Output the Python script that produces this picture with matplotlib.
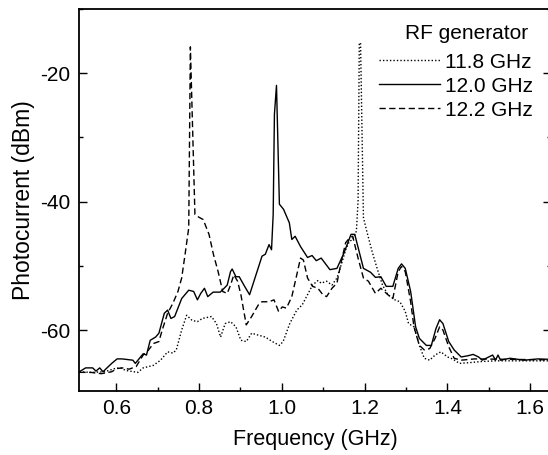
import matplotlib
matplotlib.use('Agg')
import matplotlib.pyplot as plt
from matplotlib.ticker import MultipleLocator

plt.rcParams['font.family'] = ['Liberation Sans', 'DejaVu Sans']

# 11.8 GHz (dotted)
freq_118 = [0.511, 0.538, 0.572, 0.597, 0.61, 0.623, 0.652, 0.665, 0.69, 0.707,
            0.724, 0.737, 0.745, 0.758, 0.770, 0.783, 0.796, 0.808, 0.83, 0.842,
            0.852, 0.863, 0.876, 0.889, 0.901, 0.914, 0.927, 0.943, 0.960, 0.977,
            0.994, 1.003, 1.019, 1.036, 1.049, 1.062, 1.074, 1.087, 1.095, 1.108,
            1.121, 1.133, 1.146, 1.154, 1.163, 1.171, 1.18, 1.184, 1.187, 1.190,
            1.197, 1.205, 1.218, 1.23, 1.243, 1.256, 1.273, 1.285, 1.298, 1.306,
            1.319, 1.332, 1.344, 1.357, 1.37, 1.384, 1.4, 1.412, 1.429, 1.45,
            1.484, 1.517, 1.6, 1.7]
pc_118 = [-66.5, -66.6, -66.5, -66.0, -65.9, -66.3, -66.6, -65.9, -65.5, -64.7,
          -63.4, -63.6, -63.1, -60.0, -57.7, -58.5, -58.7, -58.2, -57.9, -59.0,
          -61.1, -59.0, -58.7, -59.5, -61.6, -61.8, -60.5, -60.8, -61.1, -61.8,
          -62.4, -61.8, -59.0, -56.9, -56.1, -54.5, -53.0, -52.3, -52.7, -52.4,
          -53.0, -51.9, -49.3, -47.5, -46.2, -45.9, -44.6, -39.9, -15.3, -15.3,
          -42.5, -44.6, -47.8, -50.4, -53.0, -54.5, -55.3, -55.6, -57.1, -59.0,
          -59.5, -62.4, -64.4, -64.7, -63.9, -63.4, -64.2, -64.5, -65.2, -65.1,
          -64.9, -64.8, -64.8, -64.8]

# 12.0 GHz (solid)
freq_120 = [0.511, 0.526, 0.543, 0.551, 0.56, 0.568, 0.576, 0.589, 0.602, 0.614,
            0.64, 0.646, 0.665, 0.673, 0.682, 0.695, 0.703, 0.716, 0.724, 0.732,
            0.741, 0.758, 0.775, 0.787, 0.796, 0.804, 0.813, 0.821, 0.834, 0.851,
            0.859, 0.868, 0.876, 0.880, 0.889, 0.897, 0.910, 0.922, 0.939, 0.952,
            0.960, 0.969, 0.975, 0.979, 0.982, 0.987, 0.994, 1.004, 1.018, 1.024,
            1.032, 1.045, 1.062, 1.073, 1.083, 1.095, 1.116, 1.133, 1.150, 1.167,
            1.176, 1.197, 1.214, 1.226, 1.239, 1.252, 1.268, 1.281, 1.289, 1.298,
            1.311, 1.323, 1.332, 1.349, 1.361, 1.372, 1.381, 1.389, 1.403, 1.416,
            1.433, 1.45, 1.462, 1.475, 1.484, 1.509, 1.516, 1.522, 1.528, 1.551,
            1.585, 1.619, 1.7]
pc_120 = [-66.5, -65.9, -65.9, -66.4, -65.9, -66.5, -66.0, -65.2, -64.5, -64.5,
          -64.7, -65.2, -63.7, -63.9, -61.6, -61.1, -60.5, -57.4, -56.9, -58.2,
          -57.9, -55.1, -53.8, -54.0, -55.3, -54.3, -53.5, -54.8, -54.1, -54.1,
          -53.6, -53.0, -50.9, -50.5, -51.7, -51.7, -53.2, -54.5, -51.1, -48.5,
          -48.2, -46.7, -47.5, -42.0, -26.4, -21.9, -40.4, -41.2, -43.3, -45.9,
          -45.4, -47.0, -48.7, -48.4, -49.2, -48.8, -50.6, -50.4, -48.0, -45.1,
          -45.1, -50.4, -51.0, -51.8, -51.7, -53.2, -53.2, -50.4, -49.7, -50.4,
          -54.0, -59.5, -61.3, -62.4, -62.4, -59.8, -58.4, -59.0, -61.8, -63.1,
          -64.2, -64.0, -63.8, -64.2, -64.7, -63.9, -64.7, -63.9, -64.7, -64.4,
          -64.7, -64.5, -64.7]

# 12.2 GHz (dashed)
freq_122 = [0.511, 0.538, 0.564, 0.589, 0.602, 0.614, 0.631, 0.648, 0.665, 0.678,
            0.69, 0.703, 0.711, 0.724, 0.737, 0.749, 0.758, 0.766, 0.775, 0.779,
            0.790, 0.796, 0.81, 0.824, 0.835, 0.846, 0.857, 0.868, 0.876, 0.884,
            0.893, 0.901, 0.914, 0.927, 0.943, 0.952, 0.969, 0.981, 0.992, 1.001,
            1.011, 1.024, 1.036, 1.045, 1.052, 1.062, 1.074, 1.087, 1.099, 1.108,
            1.121, 1.133, 1.142, 1.154, 1.163, 1.171, 1.184, 1.197, 1.209, 1.226,
            1.239, 1.256, 1.268, 1.281, 1.289, 1.298, 1.311, 1.319, 1.332, 1.344,
            1.357, 1.37, 1.381, 1.389, 1.403, 1.416, 1.433, 1.466, 1.7]
pc_122 = [-66.6, -66.6, -66.8, -66.5, -66.0, -65.9, -66.1, -65.7, -63.9, -63.1,
          -62.1, -61.8, -60.0, -57.4, -55.8, -54.0, -51.9, -48.3, -44.1, -15.9,
          -42.0, -42.3, -42.8, -45.1, -48.3, -50.9, -54.0, -54.3, -53.0, -51.4,
          -52.4, -54.5, -59.2, -57.9, -56.1, -55.6, -55.6, -55.3, -57.1, -56.4,
          -56.6, -54.8, -51.4, -48.8, -49.1, -51.9, -53.2, -53.5, -54.5, -54.8,
          -53.5, -52.7, -49.8, -46.4, -45.7, -45.4, -48.8, -51.9, -52.4, -54.3,
          -53.5, -54.5, -55.1, -50.9, -50.1, -50.9, -55.6, -59.5, -62.4, -63.1,
          -62.9, -61.3, -59.5, -60.0, -62.6, -64.4, -64.7, -64.5, -64.7]

fig = plt.figure(figsize=(5.48, 4.55), dpi=100)
ax = fig.add_axes([79 / 548, 64 / 455, 472 / 548, 382 / 455])

lw = 1.0
ax.plot(freq_118, pc_118, color='black', linewidth=lw, linestyle=(0, (1, 1.5)), label='11.8 GHz')
ax.plot(freq_120, pc_120, color='black', linewidth=lw, linestyle='-', label='12.0 GHz')
ax.plot(freq_122, pc_122, color='black', linewidth=lw, linestyle=(0, (4.5, 2.5)), label='12.2 GHz')

ax.set_xlim(0.51, 1.65)
ax.set_ylim(-69.5, -10)
ax.xaxis.set_major_locator(MultipleLocator(0.2))
ax.xaxis.set_minor_locator(MultipleLocator(0.1))
ax.yaxis.set_major_locator(MultipleLocator(20))
ax.yaxis.set_minor_locator(MultipleLocator(10))
ax.xaxis.set_major_formatter(plt.FuncFormatter(lambda v, p: '{:.1f}'.format(v)))
ax.yaxis.set_major_formatter(plt.FuncFormatter(lambda v, p: '{:.0f}'.format(v)))
ax.tick_params(which='both', direction='in', top=False, right=True, labelsize=15)
ax.tick_params(which='major', length=5.5, width=1.0, pad=6)
ax.tick_params(which='minor', length=3.2, width=1.0)
for s in ax.spines.values():
    s.set_linewidth(1.3)

ax.set_xlabel('Frequency (GHz)', fontsize=15.5, labelpad=8)
ax.set_ylabel('Photocurrent (dBm)', fontsize=16.5, labelpad=4)

# legend title drawn separately so the gap under it can follow the reference
ax.text(0.822, 0.937, 'RF generator', transform=ax.transAxes, fontsize=15,
        ha='center', va='center')
leg = ax.legend(loc='upper right', bbox_to_anchor=(0.962, 0.886),
                frameon=False, fontsize=15,
                handlelength=2.9, handletextpad=0.25, labelspacing=0.24,
                borderpad=0.0, borderaxespad=0.0)

fig.savefig('out.png', dpi=100)
plt.close()
